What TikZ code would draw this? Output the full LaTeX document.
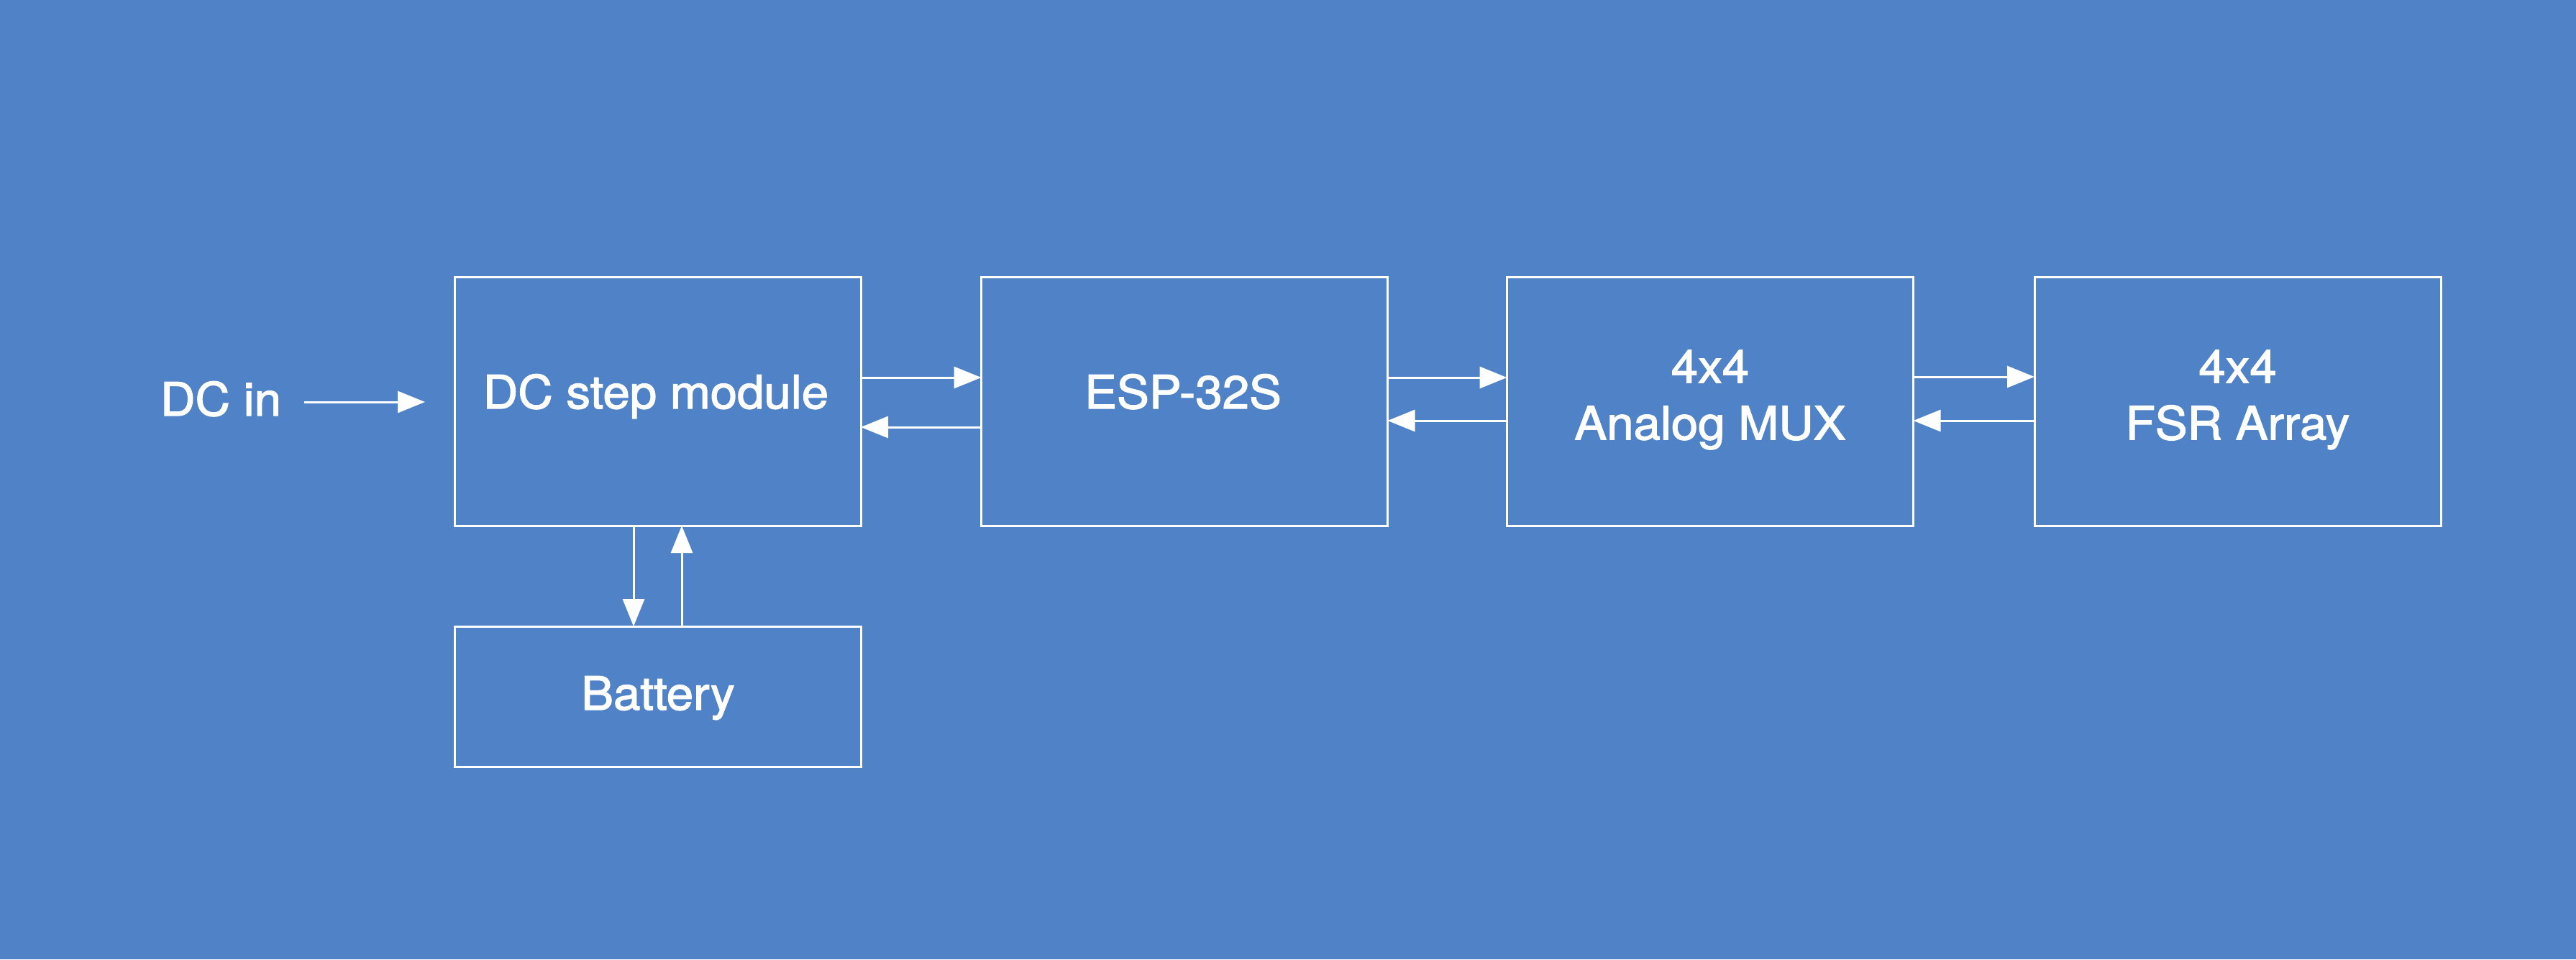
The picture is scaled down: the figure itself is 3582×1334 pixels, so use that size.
\documentclass[tikz,border=0pt]{standalone}
\usepackage{fontspec}
\setmainfont{TeX Gyre Heros}[FakeStretch=1.05,FakeBold=2]
\usetikzlibrary{arrows.meta}
\definecolor{bg}{RGB}{79,130,199}
\tikzset{
  blk/.style={draw=white, line width=3pt, minimum width=565pt, inner sep=0pt, outer sep=0pt},
  lbl/.style={text=white, font=\fontsize{64}{79}\selectfont, inner sep=0pt, align=center},
  arr/.style={draw=white, line width=3pt, -{Triangle[length=38pt,width=30pt]}}
}
\begin{document}
\begin{tikzpicture}[x=1pt,y=-1pt]
\fill[bg] (0,0) rectangle (3582,1334);
\useasboundingbox (0,0) rectangle (3582,1334);
% boxes
\node[blk, minimum height=346pt] (dc)  at (914.5,558) {};
\node[blk, minimum height=346pt] (esp) at (1647,558) {};
\node[blk, minimum height=346pt] (mux) at (2378,558) {};
\node[blk, minimum height=346pt] (fsr) at (3111.5,558) {};
\node[blk, minimum height=195pt] (bat) at (914.5,968.5) {};
% labels
\node[lbl, anchor=base] (dct)  at (912,568) {DC step module};
\node[lbl, anchor=base] (espt) at (1645,568) {ESP-32S};
\node[lbl, anchor=center] (muxt) at (2378,556) {4x4\\Analog MUX};
\node[lbl, anchor=center] (fsrt) at (3111.5,556) {4x4\\FSR Array};
\node[lbl, anchor=base] (batt) at (915,987) {Battery};
\node[lbl, anchor=base] (dcin) at (307,578) {DC in};
% DC in arrow
\coordinate (dcinA) at (423,559);
\coordinate (dcinB) at (591,559);
\draw[arr] (dcinA) -- (dcinB);
% horizontal connectors
\draw[arr] ([yshift=33pt]dc.east) -- ([yshift=33pt]esp.west);
\draw[arr] ([yshift=-36pt]esp.west) -- ([yshift=-36pt]dc.east);
\draw[arr] ([yshift=33pt]esp.east) -- ([yshift=33pt]mux.west);
\draw[arr] ([yshift=-27pt]mux.west) -- ([yshift=-27pt]esp.east);
\draw[arr] ([yshift=34pt]mux.east) -- ([yshift=34pt]fsr.west);
\draw[arr] ([yshift=-27pt]fsr.west) -- ([yshift=-27pt]mux.east);
% vertical connectors
\draw[arr] ([xshift=-33.5pt]dc.south) -- ([xshift=-33.5pt]bat.north);
\draw[arr] ([xshift=33.5pt]bat.north) -- ([xshift=33.5pt]dc.south);
\end{tikzpicture}
\end{document}
